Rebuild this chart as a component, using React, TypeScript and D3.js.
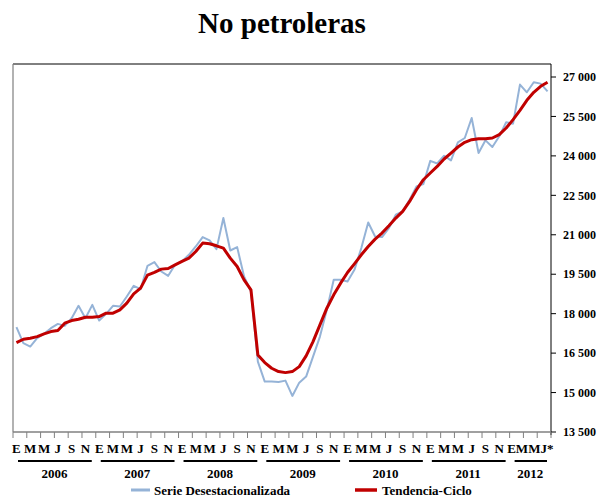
import React from "react";
import * as d3 from "d3";

const years = ["2006", "2007", "2008", "2009", "2010", "2011", "2012"];
const monthsPerYear = [12, 12, 12, 12, 12, 12, 6];
const monthLabels = ["E", "M", "M", "J", "S", "N"];
const monthLabelIdx = [0, 2, 4, 6, 8, 10];
const lastYearLabel = "EMMJ*";

const serieDesest = [
  17486, 16876, 16749, 17066, 17231, 17447, 17611, 17535, 17828, 18297, 17828, 18335,
  17738, 17992, 18297, 18272, 18652, 19058, 18932, 19820, 19960, 19604, 19439, 19857,
  19985, 20238, 20555, 20912, 20784, 20454, 21635, 20403, 20530, 19412, 18842, 16177,
  15416, 15416, 15404, 15454, 14871, 15377, 15606, 16367, 17129, 18145, 19287, 19287,
  19222, 19667, 20500, 21468, 20936, 20912, 21254, 21761, 21888, 22332, 22840, 22930,
  23810, 23710, 24007, 23829, 24515, 24681, 25442, 24109, 24591, 24338, 24744, 25277,
  25226, 26711, 26418, 26799, 26748, 26456,
];

const tendenciaCiclo = [
  16900, 17028, 17066, 17128, 17231, 17319, 17357, 17637, 17738, 17789, 17865, 17865,
  17890, 18018, 18018, 18145, 18399, 18754, 18970, 19464, 19570, 19694, 19719, 19857,
  19985, 20111, 20365, 20683, 20657, 20581, 20492, 20111, 19795, 19287, 18906, 16431,
  16139, 15925, 15797, 15758, 15797, 15987, 16393, 16938, 17573, 18208, 18716, 19160,
  19566, 19896, 20238, 20555, 20835, 21064, 21342, 21635, 21888, 22268, 22713, 23094,
  23348, 23600, 23882, 24109, 24338, 24515, 24617, 24655, 24655, 24681, 24807, 25061,
  25378, 25732, 26113, 26418, 26646, 26799,
];

const yTicks = [13500, 15000, 16500, 18000, 19500, 21000, 22500, 24000, 25500, 27000];

const title = "No petroleras";
const legendNames = ["Serie Desestacionalizada", "Tendencia-Ciclo"];

const FONT = "'Liberation Serif', 'Times New Roman', serif";
const BLUE = "#95B3D7";
const RED = "#C00000";

export default function App() {
  const W = 604;
  const H = 500;
  const left = 13;
  const right = 551;
  const top = 64;
  const bottom = 432;
  const n = serieDesest.length;
  const idx = d3.range(n);

  const x = d3.scaleBand<number>().domain(idx).range([left, right]).padding(0);
  const bw = x.bandwidth();
  const cx = (i: number) => (x(i) as number) + bw / 2;
  const y = d3.scaleLinear().domain([13500, 27000]).range([bottom, 77]);

  const line = d3
    .line<number>()
    .x((_, i) => cx(i))
    .y((d) => y(d));

  const fmt = (v: number) => d3.format(",")(v).replace(/,/g, " ");

  // year start indices
  const yearStarts: number[] = [];
  let acc = 0;
  monthsPerYear.forEach((m) => {
    yearStarts.push(acc);
    acc += m;
  });

  const tickIdx = d3.range(0, n + 1, 2);

  return (
    <svg
      width={W}
      height={H}
      style={{ position: "absolute", left: 0, top: 0, background: "#fff" }}
      fontFamily={FONT}
    >
      <rect x={0} y={0} width={W} height={H} fill="#fff" />
      <text x={282} y={33} textAnchor="middle" fontSize={29} fontWeight="bold" fill="#000">
        {title}
      </text>

      {/* frame */}
      <line x1={left} x2={right} y1={top} y2={top} stroke="#000" strokeWidth={1} />
      <line x1={left} x2={left} y1={top} y2={bottom} stroke="#7f7f7f" strokeWidth={1.2} />
      <line x1={right} x2={right} y1={top} y2={bottom + 3} stroke="#000" strokeWidth={1} />

      {/* right axis */}
      {yTicks.map((t) => (
        <g key={t}>
          <line x1={right} x2={right + 5} y1={y(t)} y2={y(t)} stroke="#000" strokeWidth={1} />
          <text
            x={right + 12}
            y={y(t)}
            dy="0.35em"
            fontSize={12}
            fontWeight="bold"
            fill="#000"
          >
            {fmt(t)}
          </text>
        </g>
      ))}

      {/* bottom axis */}
      <line x1={left} x2={right} y1={bottom} y2={bottom} stroke="#808080" strokeWidth={1.5} />
      {tickIdx.map((k) => {
        const xx = k < n ? (x(k) as number) : right;
        return (
          <line key={k} x1={xx} x2={xx} y1={bottom} y2={bottom + 6} stroke="#808080" strokeWidth={1} />
        );
      })}

      {/* month labels */}
      {years.map((yr, yi) => {
        const s = yearStarts[yi];
        const m = monthsPerYear[yi];
        if (m < 12) {
          const xm = (cx(s) + cx(s + m - 1)) / 2;
          return (
            <text key={yr} x={xm} y={453} textAnchor="middle" fontSize={13} fontWeight="bold" fill="#000">
              {lastYearLabel}
            </text>
          );
        }
        return (
          <g key={yr}>
            {monthLabels.map((lab, li) => (
              <text
                key={li}
                x={cx(s + monthLabelIdx[li])}
                y={453}
                textAnchor="middle"
                fontSize={13}
                fontWeight="bold"
                fill="#000"
              >
                {lab}
              </text>
            ))}
          </g>
        );
      })}

      {/* year labels and underlines */}
      {years.map((yr, yi) => {
        const s = yearStarts[yi];
        const m = monthsPerYear[yi];
        const x0 = x(s) as number;
        const x1 = (x(s + m - 1) as number) + bw;
        return (
          <g key={yr}>
            <line x1={x0 + 5} x2={x1 - 4} y1={461} y2={461} stroke="#000" strokeWidth={2} />
            <text x={(x0 + x1) / 2} y={478} textAnchor="middle" fontSize={13} fontWeight="bold" fill="#000">
              {yr}
            </text>
          </g>
        );
      })}

      {/* series */}
      <path d={line(serieDesest) || ""} fill="none" stroke={BLUE} strokeWidth={2} strokeLinejoin="round" />
      <path d={line(tendenciaCiclo) || ""} fill="none" stroke={RED} strokeWidth={3} strokeLinejoin="round" />

      {/* legend */}
      <line x1={131} x2={150} y1={490} y2={490} stroke={BLUE} strokeWidth={3} />
      <text x={154} y={494.5} fontSize={13} fontWeight="bold" fill="#000">
        {legendNames[0]}
      </text>
      <line x1={355} x2={377} y1={490} y2={490} stroke={RED} strokeWidth={3.5} />
      <text x={382} y={494.5} fontSize={13} fontWeight="bold" fill="#000">
        {legendNames[1]}
      </text>
    </svg>
  );
}
